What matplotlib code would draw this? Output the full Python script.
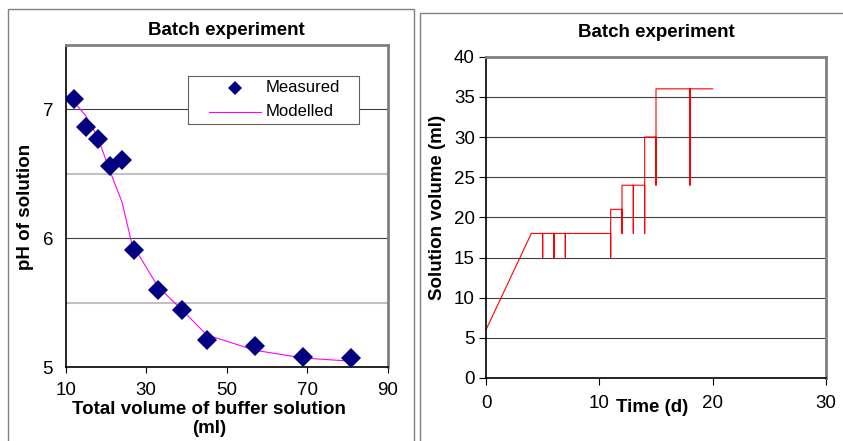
import numpy as np
import matplotlib
matplotlib.use('Agg')
import matplotlib.pyplot as plt
from matplotlib.patches import Rectangle
from matplotlib.lines import Line2D

plt.rcParams['font.family'] = ['Liberation Sans', 'DejaVu Sans']

# left chart: pH vs buffer volume
vol_meas = [12, 15, 18, 21, 24, 27, 33, 39, 45, 57, 69, 81]
ph_meas = [7.08, 6.86, 6.77, 6.56, 6.61, 5.91, 5.60, 5.44, 5.21, 5.16, 5.08, 5.07]
vol_model = [12, 15, 18, 21, 24, 26.4, 33, 39, 45, 57, 69, 81]
ph_model = [7.06, 6.95, 6.78, 6.52, 6.28, 5.96, 5.62, 5.44, 5.25, 5.13, 5.07, 5.045]

# right chart: solution volume vs time
time_d = [0, 4, 5, 5, 5, 6, 6, 6, 7, 7, 7, 11, 11, 11, 12, 12, 12, 13, 13, 13,
          14, 14, 14, 15, 15, 15, 18, 18, 18, 20]
sol_vol = [6, 18, 18, 15, 18, 18, 15, 18, 18, 15, 18, 18, 15, 21, 21, 18, 24, 24, 18, 24,
           24, 18, 30, 30, 24, 36, 36, 24, 36, 36]

W, H = 843, 441
fig = plt.figure(figsize=(W / 100, H / 100), dpi=100)

def px_axes(x0, y0, x1, y1):
    return fig.add_axes([x0 / W, 1 - y1 / H, (x1 - x0) / W, (y1 - y0) / H])

def style_frame(ax):
    for s in ['top', 'right']:
        ax.spines[s].set_color('#808080')
        ax.spines[s].set_linewidth(2)
    for s in ['left', 'bottom']:
        ax.spines[s].set_color('black')
        ax.spines[s].set_linewidth(1.2)

# outer chart frames
fig.add_artist(Rectangle((8 / W, -0.1), (414 - 8) / W, 1.1 - 9 / H, transform=fig.transFigure,
                         fill=False, edgecolor='#808080', lw=1))
fig.add_artist(Rectangle((420 / W, -0.1), 0.6, 1.1 - 13 / H, transform=fig.transFigure,
                         fill=False, edgecolor='#808080', lw=1))

fs = 13.5

# ---- left chart
ax1 = px_axes(65.7, 45, 387.7, 367)
for yv in [6, 7]:
    ax1.axhline(yv, color='#404040', lw=0.8, zorder=0)
for yv in [5.5, 6.5]:
    ax1.axhline(yv, color='#c0c0c0', lw=1.5, zorder=0)
ax1.plot(vol_model, ph_model, color='#ff00ff', lw=0.8, zorder=2)
ax1.plot(vol_meas, ph_meas, 'D', color='#000080', ms=10, mew=0, zorder=3)
ax1.set_xlim(10, 90)
ax1.set_ylim(5, 7.5)
ax1.set_xticks([10, 30, 50, 70, 90])
ax1.set_yticks([5, 6, 7])
ax1.tick_params(axis='x', direction='out', length=4, width=0.8, labelsize=fs, pad=7)
ax1.tick_params(axis='y', length=0, labelsize=fs, pad=9)
style_frame(ax1)
ax1.set_title('Batch experiment', fontsize=fs, fontweight='bold', pad=7)
fig.text(209 / W, 1 - 419 / H, 'Total volume of buffer solution\n(ml)', ha='center', va='center',
         fontsize=fs, fontweight='bold', linespacing=1.2)
fig.text(26 / W, 1 - 207 / H, 'pH of solution', ha='center', va='center', rotation=90,
         fontsize=fs, fontweight='bold')

# legend box
lx0, ly0, lx1, ly1 = 188, 76, 359, 124
fig.add_artist(Rectangle((lx0 / W, 1 - ly1 / H), (lx1 - lx0) / W, (ly1 - ly0) / H,
                         transform=fig.transFigure, facecolor='white', edgecolor='#606060', lw=0.8, zorder=5))
fig.add_artist(Line2D([235 / W], [1 - 88 / H], marker='D', color='#000080', ms=7.5, mew=0,
                      transform=fig.transFigure, zorder=6))
fig.add_artist(Line2D([209 / W, 261 / W], [1 - 112 / H] * 2, color='#ff00ff', lw=0.8,
                      transform=fig.transFigure, zorder=6))
fig.text(266 / W, 1 - 88 / H, 'Measured', fontsize=12, va='center', zorder=6)
fig.text(266 / W, 1 - 112 / H, 'Modelled', fontsize=12, va='center', zorder=6)

# ---- right chart
ax2 = px_axes(486, 56.7, 826, 378)
ax2.grid(axis='y', color='#404040', lw=0.8)
ax2.set_axisbelow(True)
ax2.plot(time_d, sol_vol, color='red', lw=0.8)
ax2.set_xlim(0, 30)
ax2.set_ylim(0, 40)
ax2.set_xticks([0, 10, 20, 30])
ax2.set_yticks(range(0, 41, 5))
ax2.tick_params(axis='x', direction='out', length=5, width=0.8, labelsize=fs, pad=7)
ax2.tick_params(axis='y', direction='out', length=5, width=0.8, labelsize=fs, pad=3)
style_frame(ax2)
ax2.set_title('Batch experiment', fontsize=fs, fontweight='bold', pad=14)
fig.text(652 / W, 1 - 408 / H, 'Time (d)', ha='center', va='center', fontsize=fs, fontweight='bold')
fig.text(437 / W, 1 - 207 / H, 'Solution volume (ml)', ha='center', va='center', rotation=90,
         fontsize=fs, fontweight='bold')

fig.savefig('out.png', dpi=100, facecolor='white')
